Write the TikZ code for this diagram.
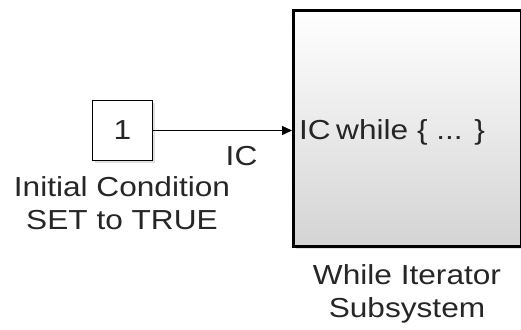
\documentclass[tikz,border=0pt]{standalone}
\usepackage{fontspec}
\setmainfont[FakeStretch=1.15]{Liberation Sans}
\usetikzlibrary{arrows.meta, shadows}

\begin{document}
\begin{tikzpicture}[x=1pt, y=1pt,
    simtext/.style={font=\fontsize{27.5}{33}\selectfont, inner sep=0pt, text=black!85},
    simshadow/.style={drop shadow={opacity=0.25, shadow xshift=2pt, shadow yshift=-2pt}}]

    \useasboundingbox (0,0) rectangle (521,-329);
    \clip (0,0) rectangle (521,-329);

    % Constant block (initial condition)
    \node[draw, line width=1.3pt, fill=white, simshadow, minimum size=60pt, simtext]
        (const1) at (122.5,-130.5) {1};
    \node[simtext, align=center, anchor=base] (constlab) at (122,-229)
        {Initial Condition\\SET to TRUE};

    % While Iterator Subsystem
    \node[draw, line width=3pt, simshadow, top color=white, middle color=white!96!black,
        bottom color=black!17, minimum width=228pt, minimum height=236pt]
        (whilesys) at (407.5,-128.5) {};
    \node[simtext, anchor=base west] (icport) at (299,-139) {IC};
    \node[simtext, anchor=base west] (whilebody) at (336,-139) {while \{ ... \}};
    \node[simtext, align=center, anchor=base] (whilelab) at (407,-317)
        {While Iterator\\Subsystem};

    % Signal line into the IC port
    \draw[line width=1.3pt, -{Triangle[length=10pt, width=9pt]}]
        (const1.east) -- (const1.east -| whilesys.west)
        node[simtext, anchor=base east] (sigic) at (258,-165) {IC};

\end{tikzpicture}
\end{document}
